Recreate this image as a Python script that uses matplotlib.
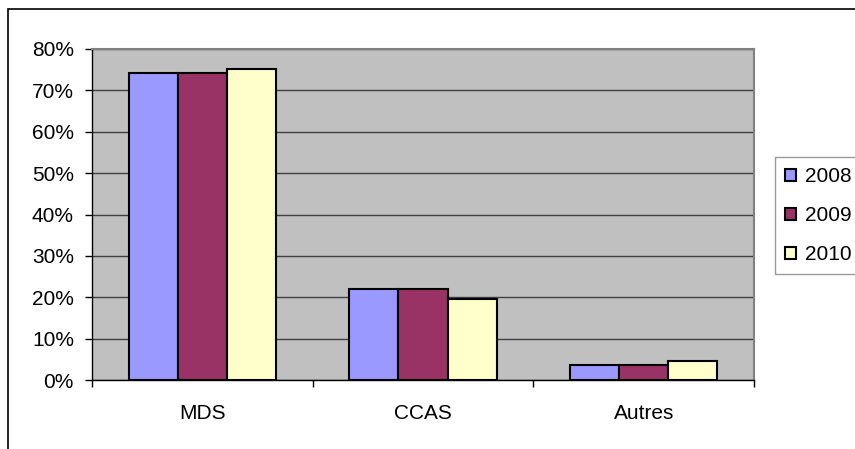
import matplotlib
matplotlib.use("Agg")
import matplotlib.pyplot as plt
import numpy as np
from matplotlib.patches import Rectangle
from matplotlib.ticker import FuncFormatter, MultipleLocator

CATEGORIES = ["MDS", "CCAS", "Autres"]
YEARS = ["2008", "2009", "2010"]
V2008 = [74.2, 22.0, 3.6]
V2009 = [74.2, 22.0, 3.6]
V2010 = [75.1, 19.5, 4.7]
COLORS = ["#9999FF", "#993366", "#FFFFCC"]

plt.rcParams["font.family"] = ["Liberation Sans", "DejaVu Sans"]

W, H = 855, 449
FS = 15
fig = plt.figure(figsize=(W / 100, H / 100), dpi=100)

# outer chart frame (runs off the right and bottom edges)
fig.patches.append(Rectangle((8 / W, -0.2), 1.2, 1.2 - 9 / H,
                             transform=fig.transFigure, fill=False,
                             edgecolor="black", lw=1.2, zorder=0))

ax = fig.add_axes([92 / W, (H - 380) / H, (754 - 92) / W, (380 - 49) / H])
ax.set_facecolor("#C0C0C0")

x = np.arange(len(CATEGORIES))
w = 1 / 4.5
for i, (vals, c, yr) in enumerate(zip([V2008, V2009, V2010], COLORS, YEARS)):
    ax.bar(x + (i - 1) * w, vals, w, color=c, edgecolor="black", lw=1.5,
           label=yr, zorder=3)

ax.set_xlim(-0.5, len(CATEGORIES) - 0.5)
ax.set_ylim(0, 80)
ax.yaxis.set_major_locator(MultipleLocator(10))
ax.yaxis.set_major_formatter(FuncFormatter(lambda v, p: f"{v:.0f}%"))
ax.grid(axis="y", color="#404040", lw=1, zorder=1)

ax.set_xticks(x)
ax.set_xticklabels(CATEGORIES, fontsize=FS)
ax.tick_params(axis="x", length=0, pad=17)
ax.set_xticks(np.arange(len(CATEGORIES) + 1) - 0.5, minor=True)
ax.tick_params(axis="x", which="minor", length=5, width=1, color="black")
ax.tick_params(axis="y", length=5, width=1, labelsize=FS, pad=8)

for s in ["left", "bottom"]:
    ax.spines[s].set_color("black")
    ax.spines[s].set_linewidth(1)
for s in ["top", "right"]:
    ax.spines[s].set_color("#808080")
    ax.spines[s].set_linewidth(1.5)

leg = fig.legend(loc="upper left", bbox_to_anchor=(775 / W, 1 - 157 / H),
                 fontsize=FS, frameon=True, fancybox=False, edgecolor="#808080",
                 handlelength=0.5, handleheight=0.5, handletextpad=0.45,
                 labelspacing=0.95, borderpad=0.5, borderaxespad=0)
leg.get_frame().set_linewidth(1)

fig.savefig("out.png", dpi=100)
